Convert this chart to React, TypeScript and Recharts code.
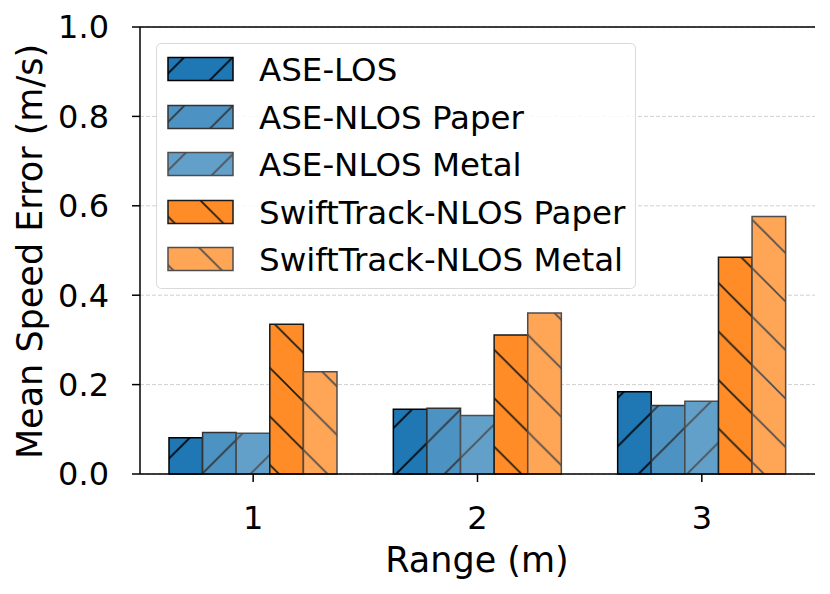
import React from 'react';
import { BarChart, Bar, XAxis, YAxis, CartesianGrid, ReferenceLine } from 'recharts';

const ranges = ['1', '2', '3'];
const aseLos = [0.081, 0.145, 0.184];
const aseNlosPaper = [0.093, 0.147, 0.153];
const aseNlosMetal = [0.091, 0.131, 0.163];
const swiftPaper = [0.335, 0.311, 0.485];
const swiftMetal = [0.229, 0.36, 0.576];
const yTicks = [0, 0.2, 0.4, 0.6, 0.8, 1.0];

const seriesNames = [
  'ASE-LOS',
  'ASE-NLOS Paper',
  'ASE-NLOS Metal',
  'SwiftTrack-NLOS Paper',
  'SwiftTrack-NLOS Metal',
];

// fill, edge/hatch colour, hatch direction
const styles = [
  { key: 'los', fill: '#1f77b4', edge: '#000000', dir: '/' },
  { key: 'nlosPaper', fill: '#4c92c3', edge: '#333333', dir: '/' },
  { key: 'nlosMetal', fill: '#62a0ca', edge: '#4d4d4d', dir: '/' },
  { key: 'swiftPaper', fill: '#ff8c26', edge: '#1a1a1a', dir: '\\' },
  { key: 'swiftMetal', fill: '#ffa556', edge: '#4d4d4d', dir: '\\' },
];

const data = ranges.map((r, i) => ({
  range: r,
  los: aseLos[i],
  nlosPaper: aseNlosPaper[i],
  nlosMetal: aseNlosMetal[i],
  swiftPaper: swiftPaper[i],
  swiftMetal: swiftMetal[i],
}));

const FONT = '"DejaVu Sans", sans-serif';
const P = 48.5;

function Hatch({ id, fill, edge, dir, phase }) {
  const lines =
    dir === '/'
      ? [
          [0, P, P, 0],
          [-2, 2, 2, -2],
          [P - 2, P + 2, P + 2, P - 2],
        ]
      : [
          [0, 0, P, P],
          [P - 2, -2, P + 2, 2],
          [-2, P - 2, 2, P + 2],
        ];
  return (
    <pattern
      id={id}
      patternUnits="userSpaceOnUse"
      width={P}
      height={P}
      patternTransform={`translate(${phase},0)`}
    >
      <rect x={0} y={0} width={P} height={P} fill={fill} />
      {lines.map((l, i) => (
        <line key={i} x1={l[0]} y1={l[1]} x2={l[2]} y2={l[3]} stroke={edge} strokeWidth={1.6} />
      ))}
    </pattern>
  );
}

function LegendBox() {
  const rowY = [69, 117, 164, 212, 259];
  return (
    <svg
      width={830}
      height={594}
      style={{ position: 'absolute', left: 0, top: 0, pointerEvents: 'none' }}
    >
      <defs>
        {styles.map((s) => (
          <Hatch
            key={s.key}
            id={`lg-${s.key}`}
            fill={s.fill}
            edge={s.edge}
            dir={s.dir}
            phase={s.dir === '/' ? -1 : 0}
          />
        ))}
      </defs>
      <rect
        x={156.5}
        y={43.5}
        width={479}
        height={245}
        rx={5}
        fill="#ffffff"
        fillOpacity={0.85}
        stroke="#d9d9d9"
        strokeWidth={1}
      />
      {seriesNames.map((name, i) => (
        <g key={name}>
          <rect
            x={168}
            y={rowY[i] - 11.5}
            width={65}
            height={23}
            fill={`url(#lg-${styles[i].key})`}
            stroke={styles[i].edge}
            strokeWidth={1.5}
          />
          <text x={259} y={rowY[i] + 12} fontSize={32.5} fontFamily={FONT} fill="#000">
            {name}
          </text>
        </g>
      ))}
    </svg>
  );
}

export default function App() {
  return (
    <div style={{ position: 'absolute', left: 0, top: 0, width: 830, height: 594, background: '#fff' }}>
      <BarChart
        width={830}
        height={594}
        data={data}
        margin={{ top: 27, right: 15, bottom: 0, left: 60 }}
        barGap={0}
      >
        <defs>
          {styles.map((s) => (
            <Hatch
              key={s.key}
              id={`h-${s.key}`}
              fill={s.fill}
              edge={s.edge}
              dir={s.dir}
              phase={s.dir === '/' ? -3 : -1}
            />
          ))}
        </defs>
        <CartesianGrid vertical={false} stroke="#d0d0d0" strokeDasharray="4 2" />
        <XAxis
          dataKey="range"
          height={120}
          padding={{ left: 1, right: 1 }}
          tickSize={8}
          tickMargin={24}
          tick={{ fontSize: 32, fill: '#000', fontFamily: FONT }}
          axisLine={{ stroke: '#000', strokeWidth: 1.5 }}
          tickLine={{ stroke: '#000', strokeWidth: 1.5 }}
          label={{
            content: () => (
              <text x={477} y={572} textAnchor="middle" fontSize={35} fontFamily={FONT} fill="#000">
                Range (m)
              </text>
            ),
          }}
        />
        <YAxis
          domain={[0, 1]}
          ticks={yTicks}
          interval={0}
          width={80}
          tickSize={8}
          tickMargin={23}
          tickFormatter={(v) => v.toFixed(1)}
          tick={{ fontSize: 32, fill: '#000', fontFamily: FONT }}
          axisLine={{ stroke: '#000', strokeWidth: 1.5 }}
          tickLine={{ stroke: '#000', strokeWidth: 1.5 }}
          label={{
            content: () => (
              <text
                x={0}
                y={0}
                transform="translate(42,251.5) rotate(-90)"
                textAnchor="middle"
                fontSize={35}
                fontFamily={FONT}
                fill="#000"
              >
                Mean Speed Error (m/s)
              </text>
            ),
          }}
        />
        <YAxis
          yAxisId="right"
          orientation="right"
          width={0}
          domain={[0, 1]}
          tick={false}
          tickLine={false}
          axisLine={{ stroke: '#000', strokeWidth: 1.5 }}
        />
        <ReferenceLine y={1} stroke="#000" strokeWidth={1.5} />
        {styles.map((s, i) => (
          <Bar
            key={s.key}
            dataKey={s.key}
            name={seriesNames[i]}
            fill={`url(#h-${s.key})`}
            stroke={s.edge}
            strokeWidth={1.5}
            barSize={33.6}
            isAnimationActive={false}
          />
        ))}
      </BarChart>
      <LegendBox />
    </div>
  );
}
